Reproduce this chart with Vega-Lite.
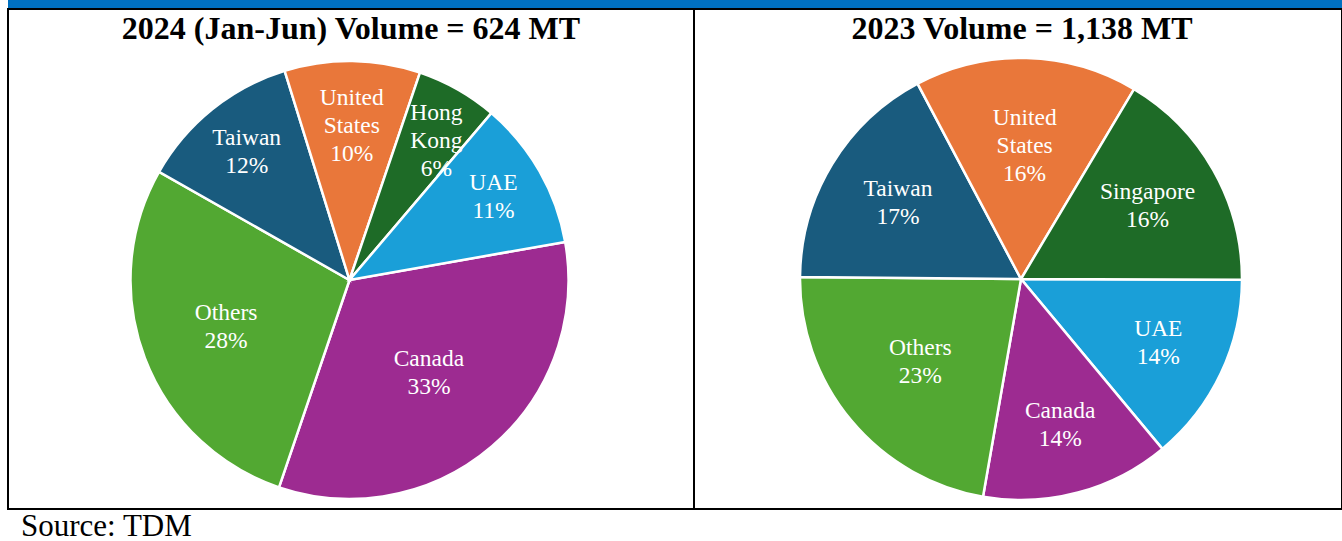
{
  "$schema": "https://vega.github.io/schema/vega-lite/v6.json",
  "background": "white",
  "padding": {"left": 7, "top": 0, "right": 0, "bottom": 0},
  "spacing": 0,
  "config": {"view": {"stroke": null}, "font": "Liberation Serif"},
  "datasets": {
    "y2024": [
      {"country": "Canada", "share": 33, "label": "Canada\n33%", "ord": 1},
      {"country": "Others", "share": 28, "label": "Others\n28%", "ord": 2},
      {"country": "Taiwan", "share": 12, "label": "Taiwan\n12%", "ord": 3},
      {"country": "United States", "share": 10, "label": "United\nStates\n10%", "ord": 4},
      {"country": "Hong Kong", "share": 6, "label": "Hong\nKong\n6%", "ord": 5},
      {"country": "UAE", "share": 11, "label": "UAE\n11%", "ord": 6}
    ],
    "y2023": [
      {"country": "UAE", "share": 13.9, "label": "UAE\n14%", "ord": 1},
      {"country": "Canada", "share": 13.8, "label": "Canada\n14%", "ord": 2},
      {"country": "Others", "share": 22.4, "label": "Others\n23%", "ord": 3},
      {"country": "Taiwan", "share": 17.1, "label": "Taiwan\n17%", "ord": 4},
      {"country": "United States", "share": 16.3, "label": "United\nStates\n16%", "ord": 5},
      {"country": "Singapore", "share": 16.5, "label": "Singapore\n16%", "ord": 6}
    ]
  },
  "vconcat": [
    {
      "width": 1335,
      "height": 8,
      "view": {"fill": "#0070C0", "stroke": null},
      "data": {"values": [{"t": ""}]},
      "mark": {"type": "text", "opacity": 0, "fontSize": 1, "baseline": "top"},
      "encoding": {"text": {"field": "t"}, "y": {"value": 0}}
    },
    {
      "spacing": 0,
      "bounds": "flush",
      "resolve": {"scale": {"theta": "independent", "color": "independent", "radius": "independent"}},
      "hconcat": [
        {
          "width": 686,
          "height": 500,
          "view": {"stroke": "black", "strokeWidth": 2},
          "layer": [
            {
              "data": {"name": "y2024"},
              "encoding": {
                "theta": {"field": "share", "type": "quantitative", "stack": true, "scale": {"range": [1.396, 7.679]}},
                "order": {"field": "ord", "type": "quantitative"},
                "color": {"field": "country", "type": "nominal", "legend": null,
                  "scale": {"domain": ["Canada", "Others", "Taiwan", "United States", "Hong Kong", "UAE"],
                            "range": ["#9d2b91", "#52a832", "#195b7e", "#e9773a", "#1e6b27", "#1a9fd8"]}}
              },
              "layer": [
                {"mark": {"type": "arc", "outerRadius": 219, "stroke": "white", "strokeWidth": 2.5, "xOffset": -1.5, "yOffset": 21}},
                {"mark": {"type": "text", "xOffset": -1.5, "yOffset": 7, "fill": "white", "fontSize": 23.5, "lineHeight": 28, "lineBreak": "\n", "font": "Liberation Serif", "align": "center", "baseline": "middle"},
                 "encoding": {
                   "text": {"field": "label", "type": "nominal"},
                   "color": {"value": "white"},
                   "radius": {"field": "share", "type": "quantitative", "scale": {"type": "linear", "zero": false, "domain": [6, 33], "range": [176, 122]}}
                 }}
              ]
            },
            {
              "data": {"values": [{"title": "2024 (Jan-Jun) Volume = 624 MT"}]},
              "mark": {"type": "text", "fontSize": 32, "fontWeight": "bold", "font": "Liberation Serif", "color": "black", "baseline": "alphabetic", "align": "center", "dy": 30},
              "encoding": {"text": {"field": "title", "type": "nominal"}, "y": {"value": 0}}
            }
          ]
        },
        {
          "width": 648,
          "height": 500,
          "view": {"stroke": "black", "strokeWidth": 2},
          "layer": [
            {
              "data": {"name": "y2023"},
              "encoding": {
                "theta": {"field": "share", "type": "quantitative", "stack": true, "scale": {"range": [1.574, 7.857]}},
                "order": {"field": "ord", "type": "quantitative"},
                "color": {"field": "country", "type": "nominal", "legend": null,
                  "scale": {"domain": ["UAE", "Canada", "Others", "Taiwan", "United States", "Singapore"],
                            "range": ["#1a9fd8", "#9d2b91", "#52a832", "#195b7e", "#e9773a", "#1e6b27"]}}
              },
              "layer": [
                {"mark": {"type": "arc", "outerRadius": 221, "stroke": "white", "strokeWidth": 2.5, "xOffset": 3, "yOffset": 20}},
                {"mark": {"type": "text", "xOffset": 3, "yOffset": 5, "fill": "white", "fontSize": 23.5, "lineHeight": 28, "lineBreak": "\n", "font": "Liberation Serif", "align": "center", "baseline": "middle"},
                 "encoding": {
                   "text": {"field": "label", "type": "nominal"},
                   "color": {"value": "white"},
                   "radius": {"field": "share", "type": "quantitative", "scale": {"type": "linear", "zero": false, "domain": [13.8, 22.4], "range": [152, 131]}}
                 }}
              ]
            },
            {
              "data": {"values": [{"title": "2023 Volume = 1,138 MT"}]},
              "mark": {"type": "text", "fontSize": 32, "fontWeight": "bold", "font": "Liberation Serif", "color": "black", "baseline": "alphabetic", "align": "center", "dy": 30, "dx": 4},
              "encoding": {"text": {"field": "title", "type": "nominal"}, "y": {"value": 0}}
            }
          ]
        }
      ]
    },
    {
      "width": 1335,
      "height": 30,
      "view": {"stroke": null},
      "data": {"values": [{"t": "Source: TDM"}]},
      "mark": {"type": "text", "fontSize": 31, "font": "Liberation Serif", "color": "black", "baseline": "alphabetic", "align": "left", "dx": 13, "dy": 26},
      "encoding": {"text": {"field": "t", "type": "nominal"}, "x": {"value": 0}, "y": {"value": 0}}
    }
  ]
}
